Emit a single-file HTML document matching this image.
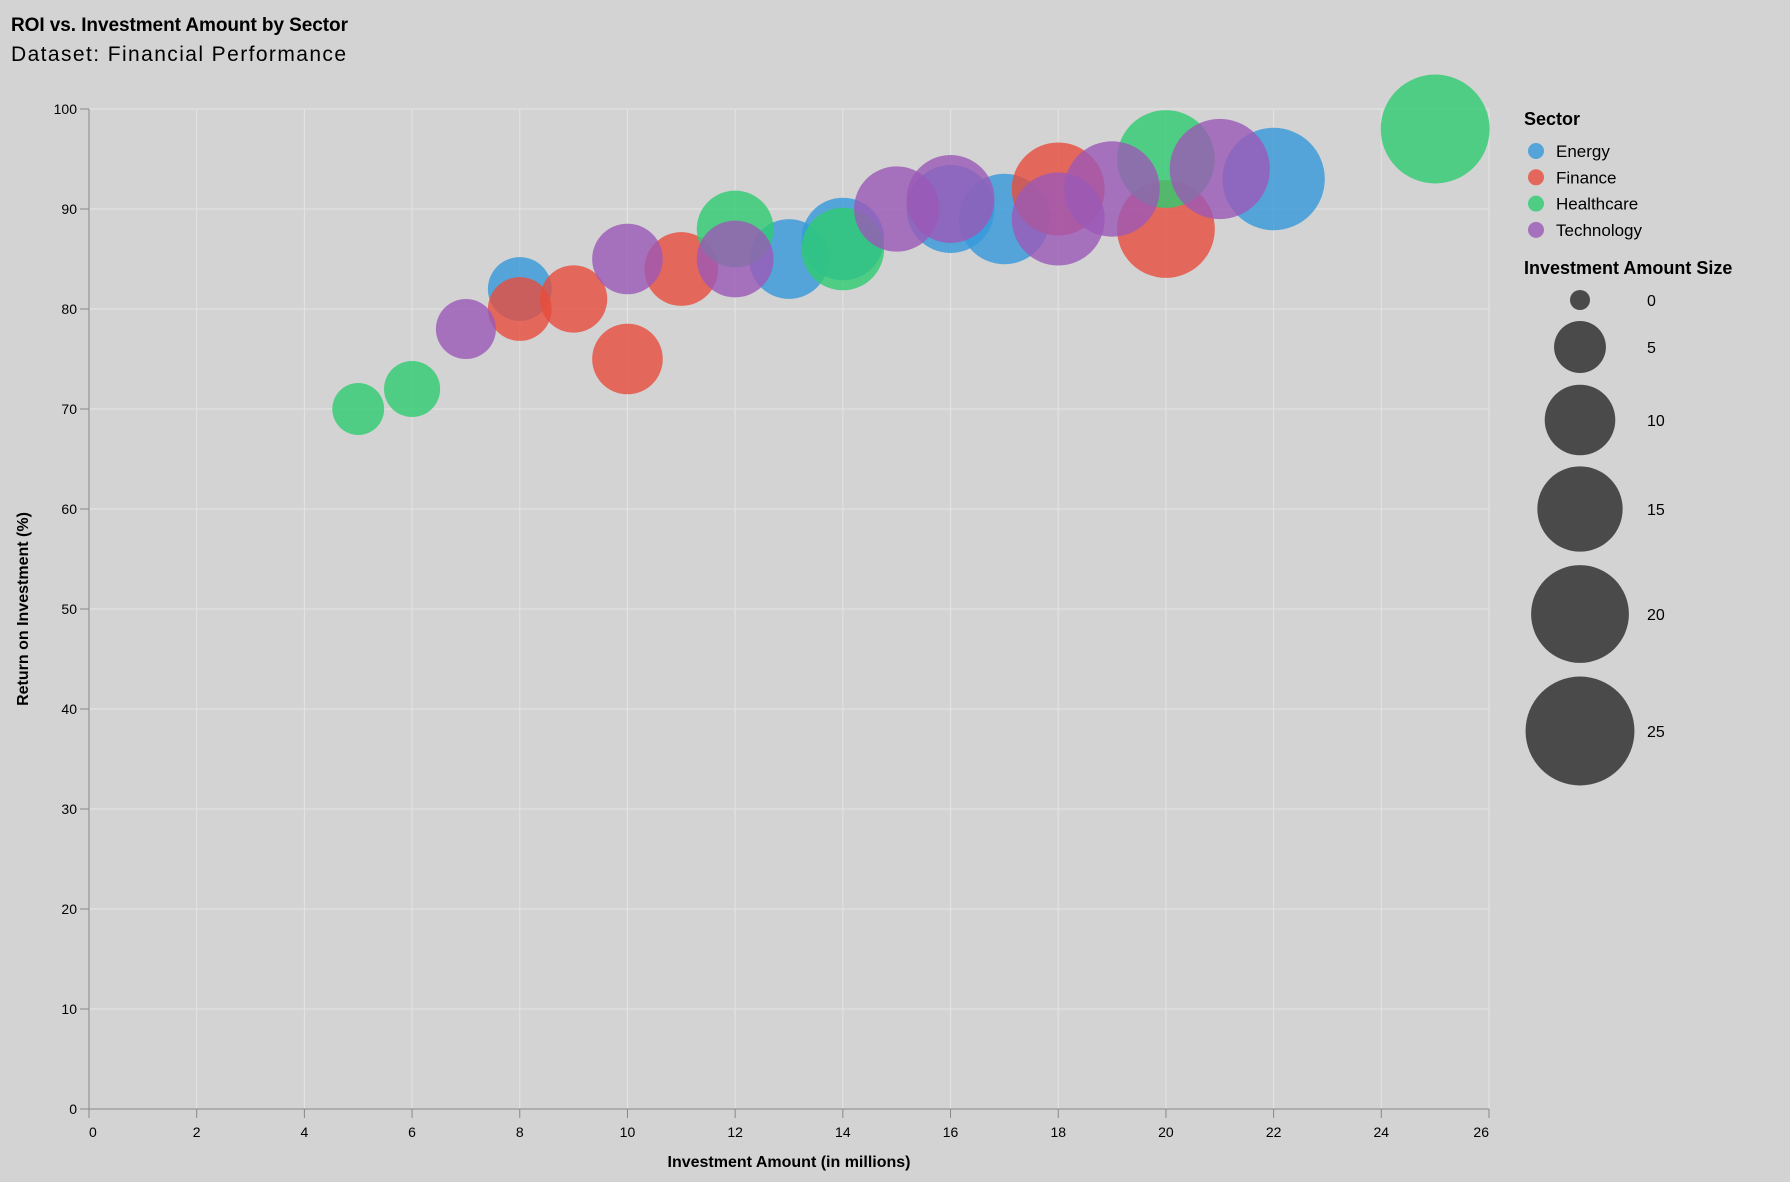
<!DOCTYPE html>
<html><head><meta charset="utf-8"><style>
body{margin:0;background:#d3d3d3;}
svg{display:block;font-family:"Liberation Sans",Arial,sans-serif;}
</style></head><body>
<svg id="chart" width="1790" height="1182">
<rect width="1790" height="1182" fill="#d3d3d3"/>
<text x="11" y="31" font-size="19" font-weight="bold" fill="#000" textLength="337">ROI vs. Investment Amount by Sector</text>
<text x="11" y="61" font-size="21" fill="#000" textLength="335">Dataset: Financial Performance</text>
<g id="grid"></g><g id="axes"></g><g id="marks"></g><g id="legend"></g>
<text x="789" y="1167" font-size="16" font-weight="bold" text-anchor="middle">Investment Amount (in millions)</text>
<text transform="translate(28,609) rotate(-90)" font-size="16" font-weight="bold" text-anchor="middle">Return on Investment (%)</text>
</svg>
<script>
const sectors=["Energy","Finance","Healthcare","Technology"];
const colors=["#3498db","#e74c3c","#2ecc71","#9b59b6"];
const energyX=[8,13,14,16,17,22];
const energyY=[82,85,87,90,89,93];
const financeX=[8,9,10,11,18,20];
const financeY=[80,81,75,84,92,88];
const healthX=[5,6,12,14,20,25];
const healthY=[70,72,88,86,95,98];
const techX=[7,10,12,15,16,18,19,21];
const techY=[78,85,85,90,91,89,92,94];
const xTicks=[0,2,4,6,8,10,12,14,16,18,20,22,24,26];
const yTicks=[0,10,20,30,40,50,60,70,80,90,100];
const sizeTicks=[0,5,10,15,20,25];

const NS="http://www.w3.org/2000/svg";
const X0=89,X1=1489,Y0=1109,Y1=109;
const sx=v=>X0+(v/26)*(X1-X0);
const sy=v=>Y0-(v/100)*(Y0-Y1);
const rad=v=>Math.sqrt((314+360*v)/Math.PI);
function mk(tag,attrs,parent){const e=document.createElementNS(NS,tag);for(const k in attrs)e.setAttribute(k,attrs[k]);parent.appendChild(e);return e;}
const grid=document.getElementById('grid'),axes=document.getElementById('axes'),marks=document.getElementById('marks'),legend=document.getElementById('legend');

xTicks.forEach((t,i)=>{
  const g=mk('line',{x1:sx(t),x2:sx(t),y1:Y1,y2:Y0,stroke:'#e4e4e4','stroke-width':1},grid);
  
  
  const tk=mk('line',{x1:sx(t),x2:sx(t),y1:Y0,y2:Y0+9,stroke:'#888','stroke-width':1},axes);
  
  
  const anchor=i===0?'start':(i===xTicks.length-1?'end':'middle');
  const lb=mk('text',{x:sx(t),y:Y0+28,'font-size':14,'text-anchor':anchor},axes);
  lb.textContent=t;
  
  
});
yTicks.forEach(t=>{
  const g=mk('line',{x1:X0,x2:X1,y1:sy(t),y2:sy(t),stroke:'#e4e4e4','stroke-width':1},grid);
  
  
  const tk=mk('line',{x1:X0-9,x2:X0,y1:sy(t),y2:sy(t),stroke:'#888','stroke-width':1},axes);
  
  
  const lb=mk('text',{x:X0-12,y:sy(t)+5,'font-size':14,'text-anchor':'end'},axes);
  lb.textContent=t;
  
  
});
const ax=mk('line',{x1:X0,x2:X1,y1:Y0,y2:Y0,stroke:'#888','stroke-width':1},axes);


const ay=mk('line',{x1:X0,x2:X0,y1:Y1,y2:Y0,stroke:'#888','stroke-width':1},axes);



const series=[[energyX,energyY],[financeX,financeY],[healthX,healthY],[techX,techY]];
series.forEach((s,si)=>{
  s[0].forEach((xv,i)=>{
    const c=mk('circle',{cx:sx(xv),cy:sy(s[1][i]),r:rad(xv),fill:colors[si],'fill-opacity':0.8},marks);
    
    
  });
});

const lt=mk('text',{x:1524,y:125,'font-size':18,'font-weight':'bold'},legend);
lt.textContent='Sector';


sectors.forEach((s,i)=>{
  const y=151+i*26.3;
  const c=mk('circle',{cx:1536,cy:y,r:8,fill:colors[i],'fill-opacity':0.8},legend);
  
  
  const t=mk('text',{x:1556,y:y+6,'font-size':17},legend);
  t.textContent=s;
  
  
});
const st=mk('text',{x:1524,y:274,'font-size':18,'font-weight':'bold'},legend);
st.textContent='Investment Amount Size';


const sCy=[300,347,420,509,614,731];
sizeTicks.forEach((v,i)=>{
  const c=mk('circle',{cx:1580,cy:sCy[i],r:rad(v),fill:'#4a4a4a'},legend);
  
  
  const t=mk('text',{x:1647,y:sCy[i]+6,'font-size':16},legend);
  t.textContent=v;
  
  
});
</script>
</body></html>
